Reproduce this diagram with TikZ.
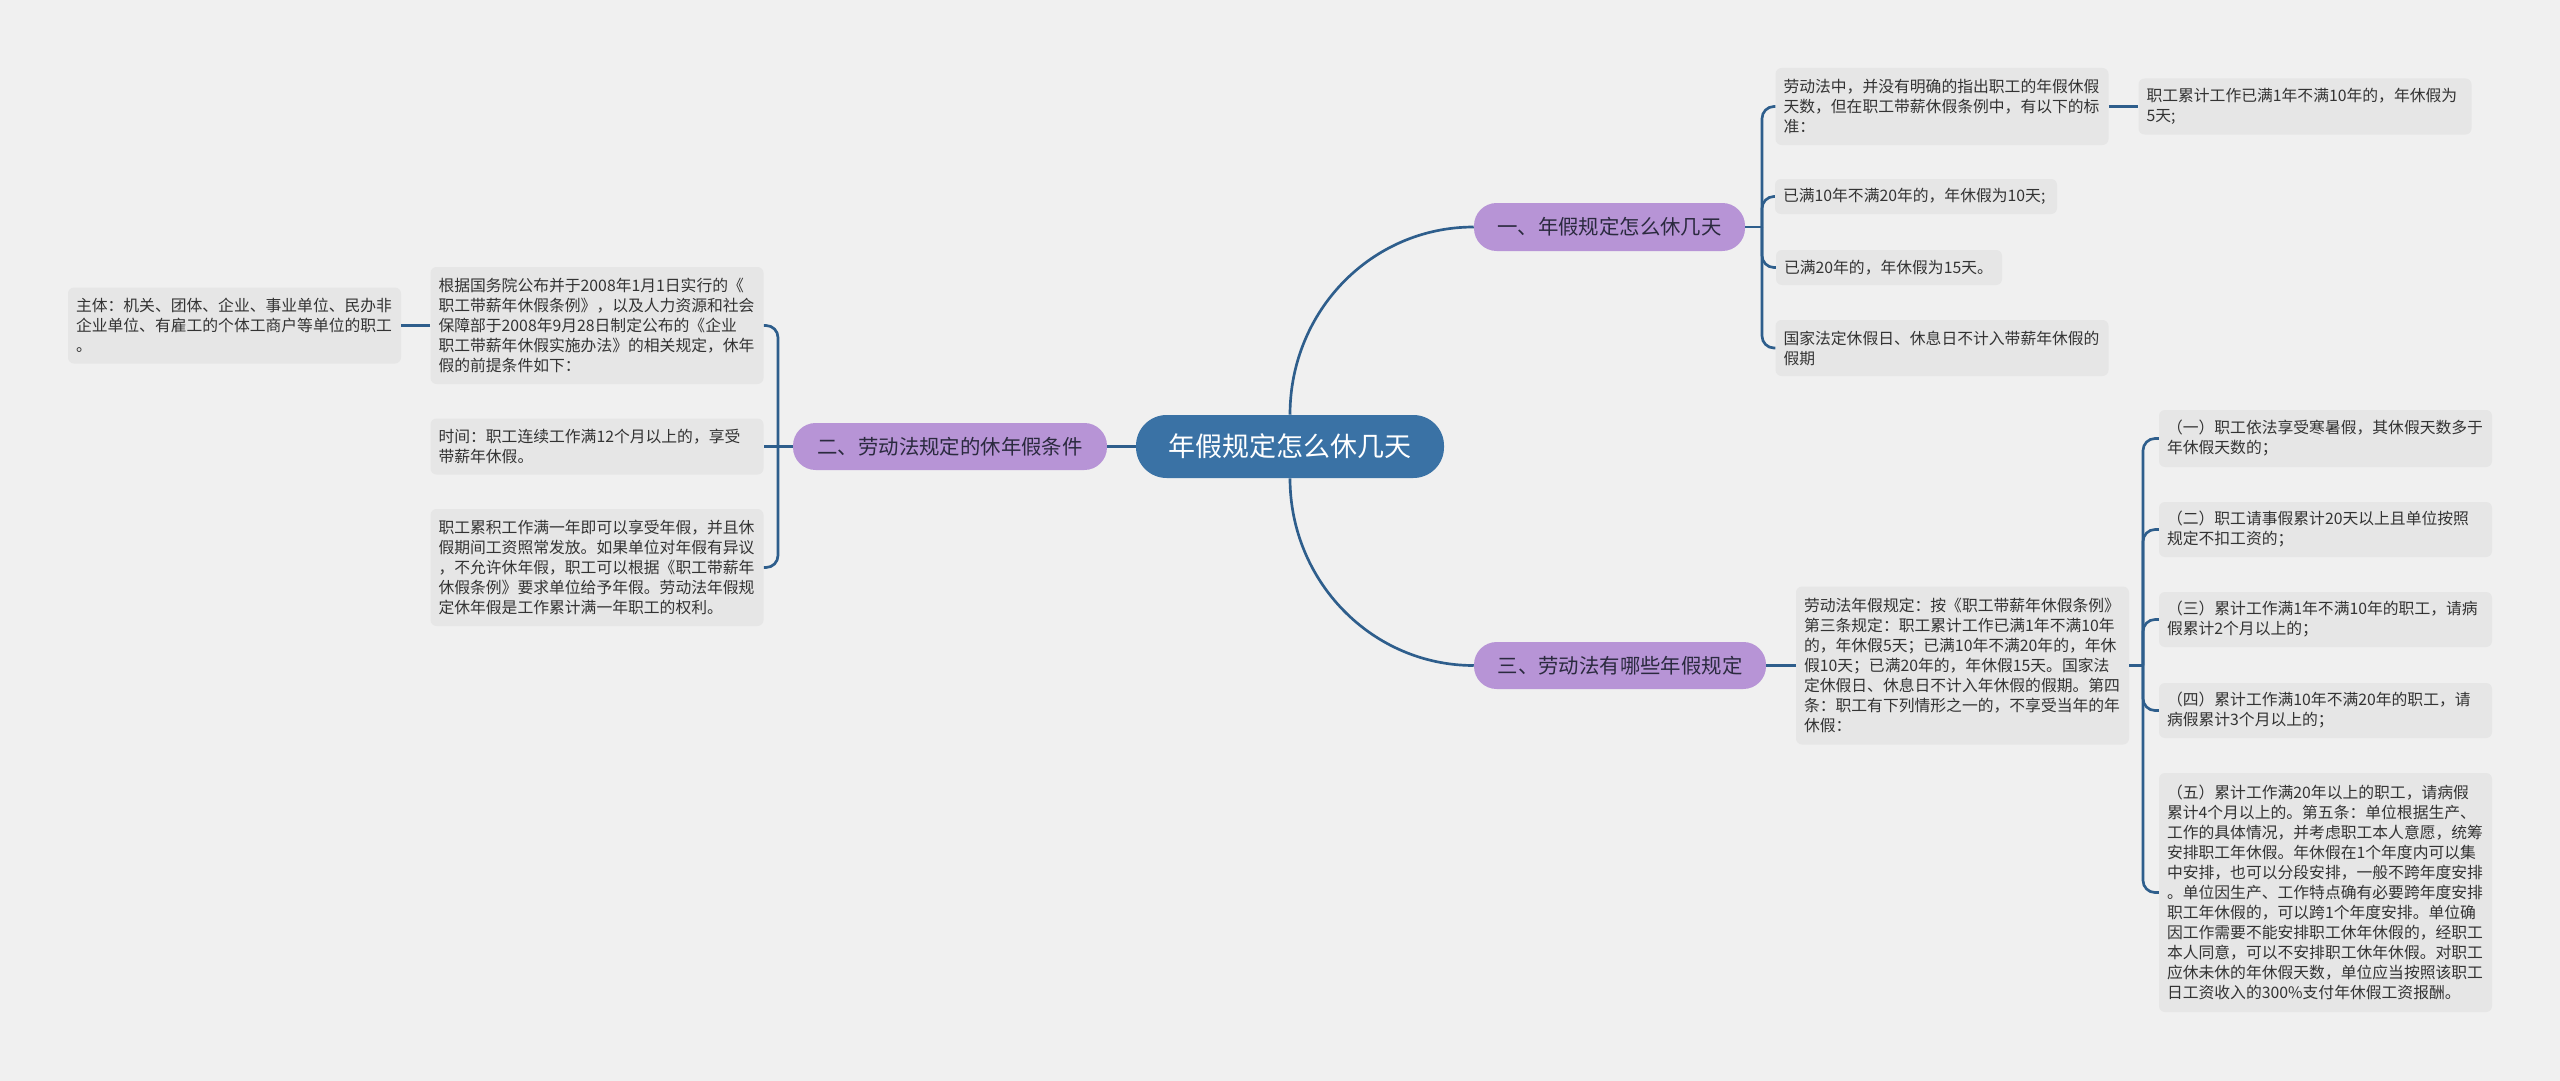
\documentclass[tikz,border=0pt]{standalone}
\usepackage{fontspec}
\setmainfont{Noto Sans CJK SC}
\definecolor{bgc}{HTML}{F0F0F0}
\definecolor{leafbg}{HTML}{E6E6E6}
\definecolor{leaftext}{HTML}{333333}
\definecolor{branchbg}{HTML}{B794D6}
\definecolor{branchtext}{HTML}{2B2A3F}
\definecolor{rootbg}{HTML}{3A72A5}
\definecolor{linkc}{HTML}{2E5E8C}
\tikzset{
  leaf/.style={fill=leafbg, rounded corners=4.5pt, align=left, anchor=center,
    inner xsep=6pt, inner ysep=0pt, text=leaftext,
    font=\fontsize{11.85pt}{15pt}\selectfont},
  branch/.style={fill=branchbg, rounded corners=17pt, text=branchtext, anchor=center,
    inner sep=0pt, font=\fontsize{15.3pt}{18pt}\selectfont},
  rootnode/.style={fill=rootbg, rounded corners=23pt, text=white, anchor=center,
    inner sep=0pt, font=\fontsize{20.25pt}{24pt}\selectfont},
  link/.style={draw=linkc, line width=2pt},
  brk/.style={draw=linkc, line width=2pt, rounded corners=9pt},
  wide/.style={minimum width=249.75pt, text width=237.75pt},
}
\begin{document}
\begin{tikzpicture}[x=0.75pt,y=-0.75pt]
\fill[bgc] (0,0) rectangle (2560,1081);
\useasboundingbox (0,0) rectangle (2560,1081);

% root and branches
\node[rootnode, minimum width=231pt, minimum height=47.25pt] (root) at (1290,446.5) {年假规定怎么休几天};
\node[branch, minimum width=203.25pt, minimum height=36pt] (b1) at (1609.5,227) {一、年假规定怎么休几天};
\node[branch, minimum width=235.5pt, minimum height=35.25pt] (b2) at (950,446.5) {二、劳动法规定的休年假条件};
\node[branch, minimum width=219pt, minimum height=35.25pt] (b3) at (1620,665.5) {三、劳动法有哪些年假规定};

% branch 1 leaves
\node[leaf, wide, minimum height=57.75pt] (l1a) at (1942,106.5) {劳动法中，并没有明确的指出职工的年假休假\\天数，但在职工带薪休假条例中，有以下的标\\准：};
\node[leaf, wide, minimum height=42pt] (l1a1) at (2305,106.5) {职工累计工作已满1年不满10年的，年休假为\\5天;};
\node[leaf, minimum width=211.5pt, text width=199.5pt, minimum height=26.25pt] (l1b) at (1916,196.5) {已满10年不满20年的，年休假为10天;};
\node[leaf, minimum width=169.5pt, text width=157.5pt, minimum height=26.25pt] (l1c) at (1889,267.5) {已满20年的，年休假为15天。};
\node[leaf, wide, minimum height=42pt] (l1d) at (1942,348) {国家法定休假日、休息日不计入带薪年休假的\\假期};

% branch 2 leaves
\node[leaf, wide, minimum height=87.75pt] (l2a) at (597,325.5) {根据国务院公布并于2008年1月1日实行的《\\职工带薪年休假条例》，以及人力资源和社会\\保障部于2008年9月28日制定公布的《企业\\职工带薪年休假实施办法》的相关规定，休年\\假的前提条件如下：};
\node[leaf, wide, minimum height=57pt] (l2a1) at (234.5,325.5) {主体：机关、团体、企业、事业单位、民办非\\企业单位、有雇工的个体工商户等单位的职工\\。};
\node[leaf, wide, minimum height=42pt] (l2b) at (597,446.5) {时间：职工连续工作满12个月以上的，享受\\带薪年休假。};
\node[leaf, wide, minimum height=87.75pt] (l2c) at (597,567.5) {职工累积工作满一年即可以享受年假，并且休\\假期间工资照常发放。如果单位对年假有异议\\，不允许休年假，职工可以根据《职工带薪年\\休假条例》要求单位给予年假。劳动法年假规\\定休年假是工作累计满一年职工的权利。};

% branch 3 leaves
\node[leaf, wide, minimum height=118.5pt] (l3a) at (1962.5,665.5) {劳动法年假规定：按《职工带薪年休假条例》\\第三条规定：职工累计工作已满1年不满10年\\的，年休假5天；已满10年不满20年的，年休\\假10天；已满20年的，年休假15天。国家法\\定休假日、休息日不计入年休假的假期。第四\\条：职工有下列情形之一的，不享受当年的年\\休假：};
\node[leaf, wide, minimum height=42.75pt] (c1) at (2325.5,438.5) {（一）职工依法享受寒暑假，其休假天数多于\\年休假天数的；};
\node[leaf, wide, minimum height=41.25pt] (c2) at (2325.5,529.5) {（二）职工请事假累计20天以上且单位按照\\规定不扣工资的；};
\node[leaf, wide, minimum height=41.25pt] (c3) at (2325.5,619.5) {（三）累计工作满1年不满10年的职工，请病\\假累计2个月以上的；};
\node[leaf, wide, minimum height=41.25pt] (c4) at (2325.5,710.5) {（四）累计工作满10年不满20年的职工，请\\病假累计3个月以上的；};
\node[leaf, wide, minimum height=179.25pt] (c5) at (2325.5,892.5) {（五）累计工作满20年以上的职工，请病假\\累计4个月以上的。第五条：单位根据生产、\\工作的具体情况，并考虑职工本人意愿，统筹\\安排职工年休假。年休假在1个年度内可以集\\中安排，也可以分段安排，一般不跨年度安排\\。单位因生产、工作特点确有必要跨年度安排\\职工年休假的，可以跨1个年度安排。单位确\\因工作需要不能安排职工休年休假的，经职工\\本人同意，可以不安排职工休年休假。对职工\\应休未休的年休假天数，单位应当按照该职工\\日工资收入的300\%支付年休假工资报酬。};

% spine coordinates
\coordinate (s1) at (1762,227);
\coordinate (s2) at (778,446.5);
\coordinate (s3) at (2143,665.5);

% root connectors
\draw[link] (root.north) .. controls +(0,-104) and +(-102,0) .. (b1.west);
\draw[link] (root.south) .. controls +(0,103) and +(-102,0) .. (b3.west);
\draw[link] (root.west) -- (b2.east);

% branch 1
\draw[link] (b1.east) -- (s1);
\draw[brk] (s1) |- (l1a.west);
\draw[brk] (s1) |- (l1b.west);
\draw[brk] (s1) |- (l1c.west);
\draw[brk] (s1) |- (l1d.west);
\draw[link] (l1a.east) -- (l1a1.west);

% branch 2
\draw[link] (b2.west) -- (s2);
\draw[brk] (s2) |- (l2a.east);
\draw[link] (s2) -- (l2b.east);
\draw[brk] (s2) |- (l2c.east);
\draw[link] (l2a.west) -- (l2a1.east);

% branch 3
\draw[link] (b3.east) -- (l3a.west);
\draw[link] (l3a.east) -- (s3);
\draw[brk] (s3) |- (c1.west);
\draw[brk] (s3) |- (c2.west);
\draw[brk] (s3) |- (c3.west);
\draw[brk] (s3) |- (c4.west);
\draw[brk] (s3) |- (c5.west);
\end{tikzpicture}
\end{document}
